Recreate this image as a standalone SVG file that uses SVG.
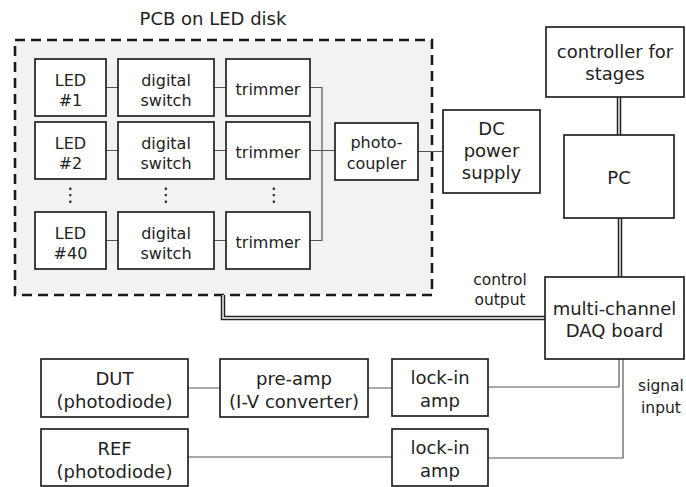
<svg xmlns="http://www.w3.org/2000/svg" width="686" height="487" viewBox="0 0 686 487">
<style>
.box{fill:#fff;stroke:#222;stroke-width:1.7}
.t{font-family:"DejaVu Sans","Noto Sans",sans-serif;font-size:18px;fill:#222;text-anchor:middle}
.s{font-size:16px}
.lab{font-size:15.5px}
.dot{font-size:19px}
.ln{fill:none;stroke:#555;stroke-width:1.2}
.dbo{fill:none;stroke:#222;stroke-width:4.5}
.dbi{fill:none;stroke:#fff;stroke-width:1.4}
</style>
<rect width="686" height="487" fill="#fff"/>
<g id="pcb">
<rect x="15" y="40" width="417" height="255" fill="#f2f2f2" stroke="#1a1a1a" stroke-width="2.6" stroke-dasharray="10,6"/>
<text class="t" x="213" y="25" font-size="18.5">PCB on LED disk</text>
</g>
<g id="connectors">
<path class="ln" d="M106 87.5H118M214 87.5H226M310 87.5H322V240.5H310M106 150.5H118M214 150.5H226M310 150.5H335M106 240.5H118M214 240.5H226M418 151.5H443"/>
<path class="ln" d="M188 388H220M368 388H392M488 387H619V359M188 457H392M488 458H623V359"/>
<path class="dbo" d="M223 295V318H545"/>
<path class="dbi" d="M223 295V318H545"/>
<path class="dbo" d="M619 97V135M620 218V277"/>
<path class="dbi" d="M619 97V135M620 218V277"/>
</g>
<g id="led1"><rect class="box" x="35" y="59" width="71" height="57"/><text class="t s"><tspan x="70.5" y="86">LED</tspan><tspan x="70.5" y="106">#1</tspan></text></g>
<g id="ds1"><rect class="box" x="118" y="59" width="96" height="57"/><text class="t s"><tspan x="166" y="86">digital</tspan><tspan x="166" y="106">switch</tspan></text></g>
<g id="tr1"><rect class="box" x="226" y="59" width="84" height="57"/><text class="t s" x="268" y="95">trimmer</text></g>
<g id="led2"><rect class="box" x="35" y="122" width="71" height="57"/><text class="t s"><tspan x="70.5" y="149">LED</tspan><tspan x="70.5" y="169">#2</tspan></text></g>
<g id="ds2"><rect class="box" x="118" y="122" width="96" height="57"/><text class="t s"><tspan x="166" y="149">digital</tspan><tspan x="166" y="169">switch</tspan></text></g>
<g id="tr2"><rect class="box" x="226" y="122" width="84" height="57"/><text class="t s" x="268" y="158">trimmer</text></g>
<g id="dots">
<text class="t dot" x="70.5" y="201">⋮</text><text class="t dot" x="166" y="201">⋮</text><text class="t dot" x="274" y="201">⋮</text>
</g>
<g id="led40"><rect class="box" x="35" y="212" width="71" height="57"/><text class="t s"><tspan x="70.5" y="239">LED</tspan><tspan x="70.5" y="259">#40</tspan></text></g>
<g id="ds40"><rect class="box" x="118" y="212" width="96" height="57"/><text class="t s"><tspan x="166" y="239">digital</tspan><tspan x="166" y="259">switch</tspan></text></g>
<g id="tr40"><rect class="box" x="226" y="212" width="84" height="57"/><text class="t s" x="268" y="248">trimmer</text></g>
<g id="photocoupler"><rect class="box" x="335" y="123" width="83" height="57"/><text class="t s"><tspan x="376.5" y="148">photo-</tspan><tspan x="376.5" y="169">coupler</tspan></text></g>
<g id="dc"><rect class="box" x="443" y="110" width="97" height="83"/><text class="t"><tspan x="491.5" y="135">DC</tspan><tspan x="491.5" y="157">power</tspan><tspan x="491.5" y="179">supply</tspan></text></g>
<g id="controller"><rect class="box" x="546" y="27" width="138" height="70"/><text class="t"><tspan x="615" y="58">controller for</tspan><tspan x="615" y="80">stages</tspan></text></g>
<g id="pc"><rect class="box" x="564" y="135" width="110" height="83"/><text class="t" x="619" y="184">PC</text></g>
<g id="daq"><rect class="box" x="545" y="277" width="139" height="82"/><text class="t"><tspan x="614.5" y="315">multi-channel</tspan><tspan x="614.5" y="337">DAQ board</tspan></text></g>
<g id="labels">
<text class="t lab"><tspan x="500" y="285">control</tspan><tspan x="500" y="305">output</tspan></text>
<text class="t lab"><tspan x="661" y="391">signal</tspan><tspan x="661" y="413">input</tspan></text>
</g>
<g id="dut"><rect class="box" x="41" y="359" width="147" height="58"/><text class="t"><tspan x="114.5" y="385">DUT</tspan><tspan x="114.5" y="408">(photodiode)</tspan></text></g>
<g id="preamp"><rect class="box" x="220" y="359" width="148" height="58"/><text class="t"><tspan x="294" y="385">pre-amp</tspan><tspan x="294" y="408">(I-V converter)</tspan></text></g>
<g id="lockin1"><rect class="box" x="392" y="359" width="96" height="57"/><text class="t"><tspan x="440" y="384">lock-in</tspan><tspan x="440" y="407">amp</tspan></text></g>
<g id="ref"><rect class="box" x="41" y="429" width="147" height="57"/><text class="t"><tspan x="114.5" y="455">REF</tspan><tspan x="114.5" y="478">(photodiode)</tspan></text></g>
<g id="lockin2"><rect class="box" x="392" y="429" width="96" height="57"/><text class="t"><tspan x="440" y="454">lock-in</tspan><tspan x="440" y="477">amp</tspan></text></g>
</svg>
